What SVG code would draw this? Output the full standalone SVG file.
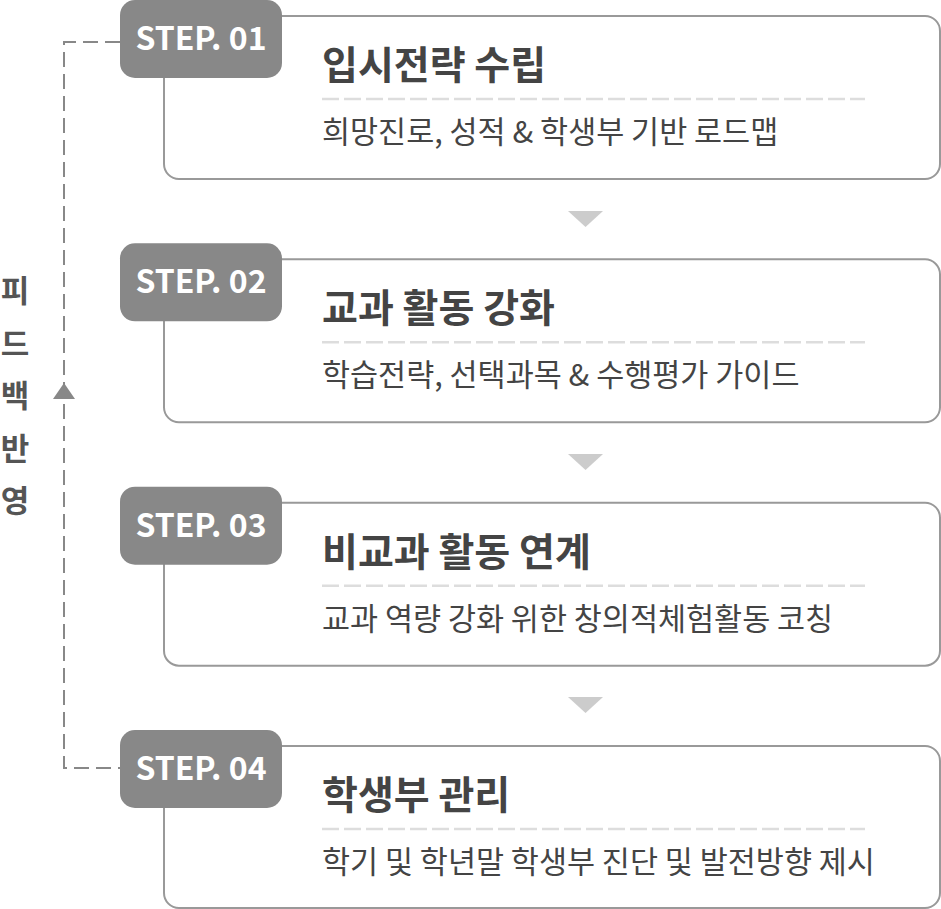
<svg xmlns="http://www.w3.org/2000/svg" width="941" height="909" viewBox="0 0 941 909">
<style>
  .box{fill:#fff;stroke:#999;stroke-width:2}
  .badge{fill:#888}
  .step{font-family:"Noto Sans CJK KR","Noto Sans",sans-serif;font-weight:700;font-size:32px;fill:#fff;text-anchor:middle}
  .title{font-family:"Noto Sans CJK KR",sans-serif;font-weight:700;font-size:39px;fill:#444}
  .sub{font-family:"Noto Sans CJK KR",sans-serif;font-weight:400;font-size:30.5px;fill:#444}
  .sep{stroke:#ddd;stroke-width:2.5;stroke-dasharray:17 5}
  .tri{fill:#ccc}
  .fb{stroke:#888;stroke-width:2;stroke-dasharray:15 7;fill:none}
  .side{font-family:"Noto Sans CJK KR",sans-serif;font-weight:700;font-size:31px;fill:#555;text-anchor:middle}
</style>
<g id="connectors">
  <path class="fb" d="M120 42 H64 V768 H120"/>
  <polygon points="64,383 53,399 75,399" fill="#888"/>
  <polygon class="tri" points="568,211 603,211 585.5,227"/>
  <polygon class="tri" points="568,454 603,454 585.5,470"/>
  <polygon class="tri" points="568,697 603,697 585.5,713"/>
</g>
<g id="feedback-label">
  <text class="side"><tspan x="15" y="302">피</tspan><tspan x="15" y="355">드</tspan><tspan x="15" y="407">백</tspan><tspan x="15" y="460">반</tspan><tspan x="15" y="512">영</tspan></text>
</g>
<g id="step1">
  <rect class="box" x="164" y="16" width="776" height="163" rx="15"/>
  <rect class="badge" x="120" y="0" width="162" height="78" rx="15"/>
  <text class="step" x="201" y="50">STEP. 01</text>
  <text class="title" x="322" y="79">입시전략 수립</text>
  <line class="sep" x1="322" y1="99" x2="865" y2="99"/>
  <text class="sub" x="322" y="143">희망진로, 성적 &amp; 학생부 기반 로드맵</text>
</g>
<g id="step2">
  <rect class="box" x="164" y="259.3" width="776" height="163" rx="15"/>
  <rect class="badge" x="120" y="243.3" width="162" height="78" rx="15"/>
  <text class="step" x="201" y="293.3">STEP. 02</text>
  <text class="title" x="322" y="322.3">교과 활동 강화</text>
  <line class="sep" x1="322" y1="342.3" x2="865" y2="342.3"/>
  <text class="sub" x="322" y="386.3">학습전략, 선택과목 &amp; 수행평가 가이드</text>
</g>
<g id="step3">
  <rect class="box" x="164" y="502.7" width="776" height="163" rx="15"/>
  <rect class="badge" x="120" y="486.7" width="162" height="78" rx="15"/>
  <text class="step" x="201" y="536.7">STEP. 03</text>
  <text class="title" x="322" y="565.7">비교과 활동 연계</text>
  <line class="sep" x1="322" y1="585.7" x2="865" y2="585.7"/>
  <text class="sub" x="322" y="629.7">교과 역량 강화 위한 창의적체험활동 코칭</text>
</g>
<g id="step4">
  <rect class="box" x="164" y="746" width="776" height="162" rx="15"/>
  <rect class="badge" x="120" y="730" width="162" height="78" rx="15"/>
  <text class="step" x="201" y="780">STEP. 04</text>
  <text class="title" x="322" y="809">학생부 관리</text>
  <line class="sep" x1="322" y1="829" x2="865" y2="829"/>
  <text class="sub" x="322" y="873">학기 및 학년말 학생부 진단 및 발전방향 제시</text>
</g>
</svg>
